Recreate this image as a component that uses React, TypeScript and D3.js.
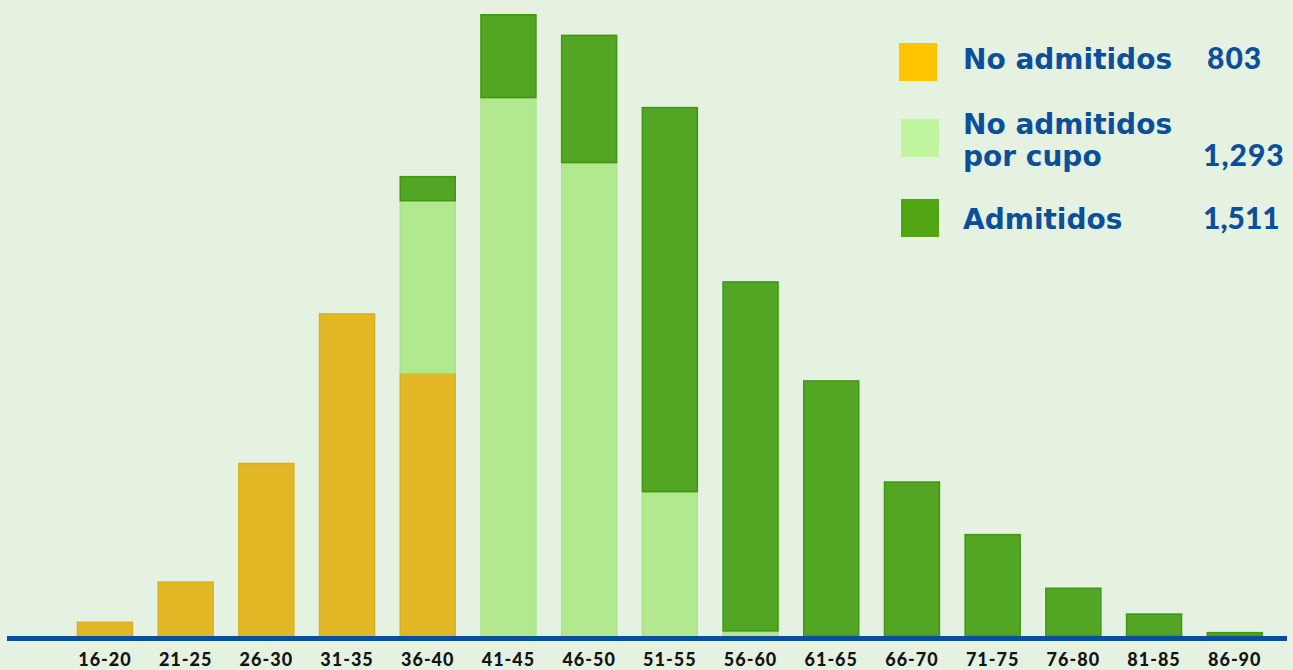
import React from 'react';
import * as d3 from 'd3';

const ageGroups = ['16-20', '21-25', '26-30', '31-35', '36-40', '41-45', '46-50', '51-55', '56-60', '61-65', '66-70', '71-75', '76-80', '81-85', '86-90'];
const noAdmitidos = [14, 53, 168, 313, 255, 0, 0, 0, 0, 0, 0, 0, 0, 0, 0];
const porCupo = [0, 0, 0, 0, 167, 522, 459, 140, 5, 0, 0, 0, 0, 0, 0];
const admitidos = [0, 0, 0, 0, 24, 81, 124, 373, 339, 248, 150, 99, 47, 22, 4];

const seriesKeys = ['noAdmitidos', 'porCupo', 'admitidos'];
const legendLabels = [['No admitidos'], ['No admitidos', 'por cupo'], ['Admitidos']];
const legendTotals = ['803', '1,293', '1,511'];

const W = 1293;
const H = 670;
const base = 636;

const barFill: Record<string, string> = { noAdmitidos: '#e2b826', porCupo: '#b2e98f', admitidos: '#53a524' };
const barStroke: Record<string, string> = { noAdmitidos: '#dcb01c', porCupo: '#abe486', admitidos: '#3f9714' };
const legendFill = ['#ffc400', '#c0f5a0', '#52a512'];
const blue = '#0b4f9a';

export default function App() {
  const rows = ageGroups.map((g, i) => ({
    group: g,
    noAdmitidos: noAdmitidos[i],
    porCupo: porCupo[i],
    admitidos: admitidos[i],
  }));

  const stacked = d3.stack<any>().keys(seriesKeys)(rows);

  const x = d3.scaleBand<string>()
    .domain(ageGroups)
    .range([64.6, 1275.1])
    .paddingInner(0.3)
    .paddingOuter(0.15);

  const maxTotal = d3.max(rows, r => r.noAdmitidos + r.porCupo + r.admitidos) || 1;
  const y = d3.scaleLinear().domain([0, maxTotal]).range([base, 14]);

  // legend rows: square top, text baselines
  const legendRows = [
    { sq: 43, sqX: 899, lines: [69], total: 69 },
    { sq: 119, sqX: 901, lines: [134, 166], total: 166 },
    { sq: 199, sqX: 901, lines: [229], total: 229 },
  ];

  return (
    <svg width={W} height={H} style={{ position: 'absolute', left: 0, top: 0, background: '#e5f1e1' }}>
      <rect width={W} height={H} fill="#e5f1e1" />

      {stacked.map(layer => (
        <g key={layer.key}>
          {layer.map((d, i) => {
            const h = y(d[0]) - y(d[1]);
            if (h <= 0) return null;
            return (
              <rect
                key={i}
                x={x(ageGroups[i])! + 0.75}
                y={y(d[1]) + 0.75}
                width={x.bandwidth() - 1.5}
                height={Math.max(h - 0.75, 0.5)}
                fill={barFill[layer.key]}
                stroke={barStroke[layer.key]}
                strokeWidth={1.5}
              />
            );
          })}
        </g>
      ))}

      <line x1={7} x2={1287} y1={base + 2.5} y2={base + 2.5} stroke="#0a4f9a" strokeWidth={5} />

      {ageGroups.map(g => (
        <text
          key={g}
          x={x(g)! + x.bandwidth() / 2}
          y={666}
          textAnchor="middle"
          fontFamily="Lato, sans-serif"
          fontWeight={900}
          fontSize={18}
          letterSpacing={1}
          fill="#141414"
        >
          {g}
        </text>
      ))}

      {legendRows.map((r, i) => (
        <g key={i}>
          <rect x={r.sqX} y={r.sq} width={38} height={38} fill={legendFill[i]} />
          {legendLabels[i].map((t, j) => (
            <text
              key={j}
              x={963}
              y={r.lines[j]}
              fontFamily="'DejaVu Sans', sans-serif"
              fontWeight={700}
              fontSize={28}
              fill={blue}
            >
              {t}
            </text>
          ))}
          <text
            x={i === 0 ? 1207 : 1203}
            y={r.total}
            fontFamily="Lato, sans-serif"
            fontWeight={900}
            fontSize={30}
            letterSpacing={i === 2 ? 0 : 1}
            fill={blue}
          >
            {legendTotals[i]}
          </text>
        </g>
      ))}
    </svg>
  );
}
